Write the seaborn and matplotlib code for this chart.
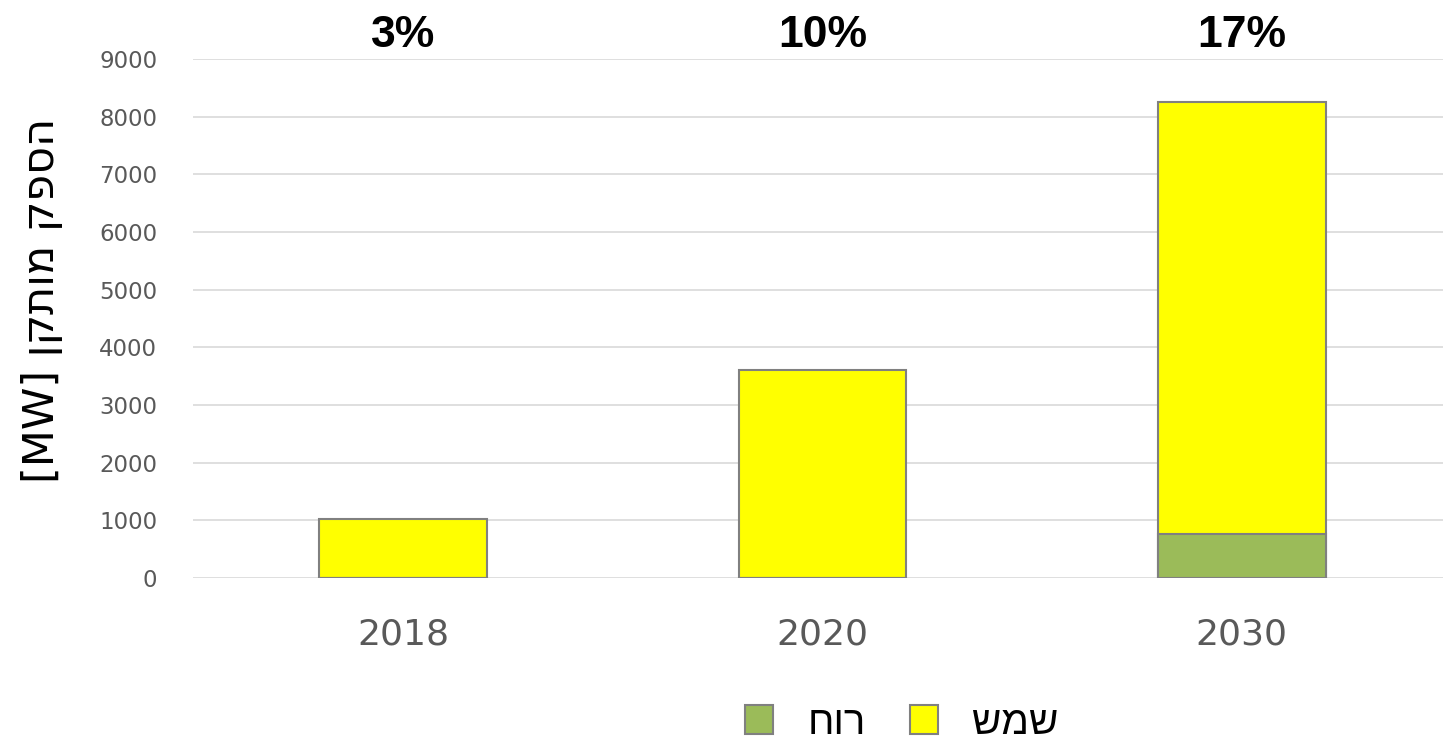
import pandas as pd
import matplotlib.pyplot as plt
from matplotlib.patches import Patch
import seaborn as sns

# data (MW)
years = ["2018", "2020", "2030"]
wind = [0, 0, 760]
solar = [1020, 3600, 7490]
shares = ["3%", "10%", "17%"]

df = pd.DataFrame({"year": years, "wind": wind, "solar": solar})
df["total"] = df["wind"] + df["solar"]

sns.set_style("white")
plt.rcParams["font.family"] = ["DejaVu Sans"]
plt.rcParams["text.color"] = "black"

fig = plt.figure(figsize=(14.43, 7.45), dpi=100)
ax = fig.add_axes([0.134, 0.224, 0.866, 0.697])

green = "#9bbb59"
yellow = "#ffff00"
edge = "#808080"

# stacked: total first (yellow), wind drawn over the bottom part
sns.barplot(data=df, x="year", y="total", color=yellow, width=0.4,
            edgecolor=edge, linewidth=1.5, saturation=1, ax=ax, zorder=3)
sns.barplot(data=df, x="year", y="wind", color=green, width=0.4,
            edgecolor=edge, linewidth=1.5, saturation=1, ax=ax, zorder=4)

ax.set_ylim(0, 9000)
ax.set_xlim(-0.5, 2.48)
ax.set_yticks(range(0, 9001, 1000))
ax.yaxis.grid(True, color="#d9d9d9", linewidth=1.2, zorder=0)
ax.set_axisbelow(True)
for s in ax.spines.values():
    s.set_visible(False)

ax.tick_params(axis="y", labelsize=16.5, labelcolor="#595959", length=0, pad=26)
ax.tick_params(axis="x", labelsize=26, labelcolor="#595959", length=0, pad=28)
ax.set_xlabel("")

# hebrew is drawn left-to-right by matplotlib, so reverse the words
ylab = "[MW] " + "מותקן"[::-1] + " " + "הספק"[::-1]
ax.set_ylabel(ylab, fontsize=31, color="black")
ax.yaxis.set_label_coords(-0.104, 0.535)

for i, s in enumerate(shares):
    ax.text(i, 9210, s, ha="center", va="baseline", fontsize=32,
            fontweight="bold", color="black",
            family=["Liberation Sans", "DejaVu Sans"])

handles = [Patch(facecolor=green, edgecolor=edge, linewidth=1.5),
           Patch(facecolor=yellow, edgecolor=edge, linewidth=1.5)]
labels = ["רוח"[::-1], "שמש"[::-1]]
fig.legend(handles, labels, loc="center", bbox_to_anchor=(0.625, 0.03),
           ncol=2, frameon=False, handlelength=0.7,
           handleheight=0.7, handletextpad=0.85, columnspacing=1.1,
           prop={"family": ["Liberation Sans", "DejaVu Sans"], "size": 29})

fig.savefig("out.png", dpi=100)
